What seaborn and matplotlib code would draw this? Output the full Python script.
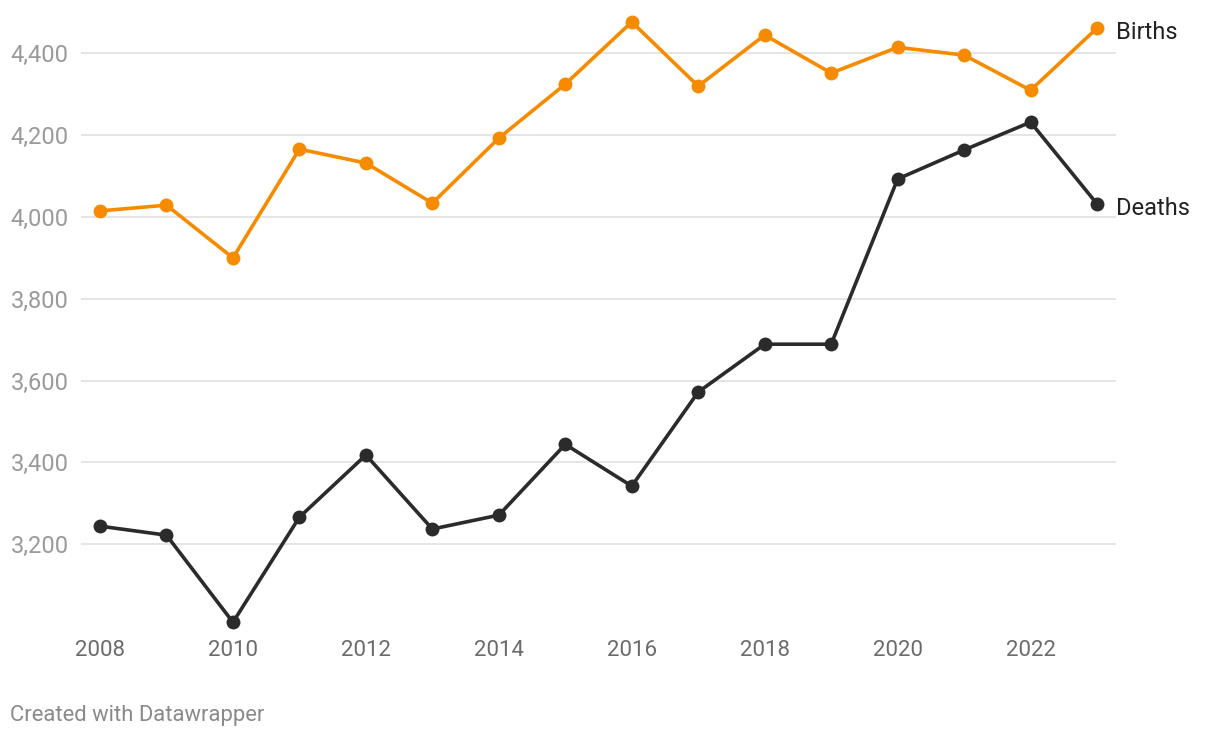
import matplotlib
matplotlib.use('Agg')
import matplotlib.pyplot as plt
import seaborn as sns
import pandas as pd

years = list(range(2008, 2024))
births = [4015, 4029, 3900, 4166, 4132, 4034, 4193, 4325, 4477, 4320,
          4445, 4352, 4415, 4396, 4310, 4462]
deaths = [3244, 3222, 3009, 3266, 3418, 3237, 3271, 3444, 3342, 3572,
          3689, 3689, 4093, 4164, 4232, 4032]
series_names = ["Births", "Deaths"]
colors = {"Births": "#f78b00", "Deaths": "#2b2b2b"}
y_ticks = [3200, 3400, 3600, 3800, 4000, 4200, 4400]
x_ticks = list(range(2008, 2024, 2))

df = pd.DataFrame({
    "year": years * 2,
    "value": births + deaths,
    "series": ["Births"] * len(years) + ["Deaths"] * len(years),
})

sns.set_style("white")
plt.rcParams['font.family'] = ['Roboto', 'DejaVu Sans']

fig = plt.figure(figsize=(12.2, 7.38), dpi=100)
ax = fig.add_axes([0.0664, 0.1463, 0.8484, 0.840])

sns.lineplot(data=df, x="year", y="value", hue="series", hue_order=series_names,
             palette=colors, marker="o", markersize=10, markeredgewidth=0,
             linewidth=2.6, legend=False, ax=ax, zorder=3)

ax.set_xlim(2007.714, 2023.286)
ax.set_ylim(2990, 4506)
ax.set_yticks(y_ticks)
ax.set_yticklabels([f"{v:,}" for v in y_ticks])
ax.set_xticks(x_ticks)
ax.set_xticklabels([str(x) for x in x_ticks])
ax.yaxis.grid(True, color="#e3e3e3", linewidth=1.3, zorder=0)
ax.xaxis.grid(False)
for s in ax.spines.values():
    s.set_visible(False)
ax.tick_params(axis="y", length=0, pad=9, labelsize=17, labelcolor="#9a9a9a")
ax.tick_params(axis="x", length=0, pad=7, labelsize=16, labelcolor="#6b6b6b")
ax.set_xlabel("")
ax.set_ylabel("")

for name, vals in zip(series_names, [births, deaths]):
    ax.annotate(name, xy=(years[-1], vals[-1]), xytext=(14, -3),
                textcoords="offset points", ha="left", va="center",
                fontsize=17, color="#222222", annotation_clip=False)

fig.text(10 / 1220, 1 - 715 / 738, "Created with Datawrapper",
         fontsize=15.8, color="#8a8a8a", ha="left", va="center")

plt.savefig("out.png", dpi=100)
plt.close()
